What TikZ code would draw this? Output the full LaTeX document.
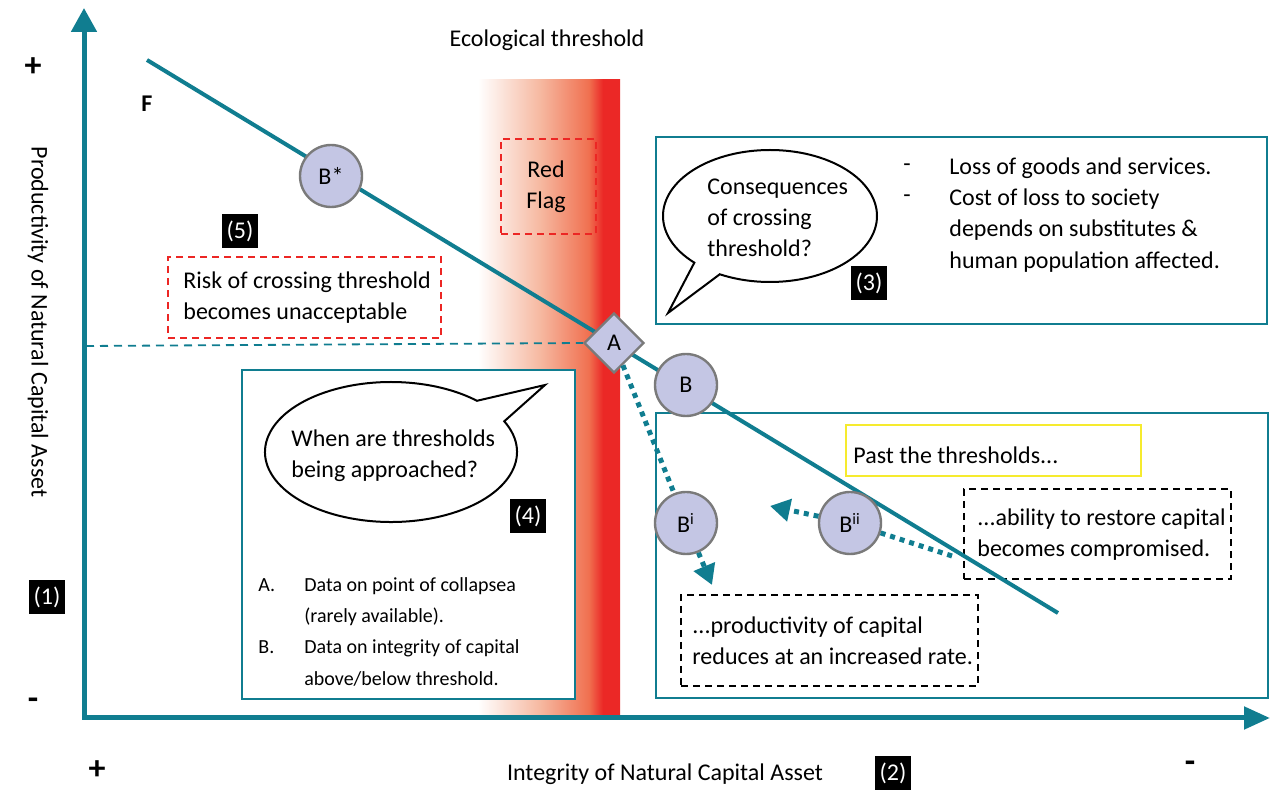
\documentclass[tikz,border=0pt]{standalone}
\usepackage{fontspec}
\setmainfont{Carlito}
\usetikzlibrary{shapes.geometric,arrows.meta}
\definecolor{teal1}{RGB}{16,125,144}
\definecolor{red1}{RGB}{236,38,36}
\definecolor{lav}{RGB}{196,198,228}
\definecolor{grayb}{RGB}{122,122,122}
\definecolor{yel}{RGB}{246,235,46}
\definecolor{bandA}{RGB}{246,184,160}
\definecolor{bandB}{RGB}{240,112,80}
\definecolor{bandR}{RGB}{235,40,38}
\pgfdeclarehorizontalshading{redband}{100bp}{color(0bp)=(white); color(25bp)=(white); color(47bp)=(bandA); color(64bp)=(bandB); color(69bp)=(bandR); color(100bp)=(bandR)}
\tikzset{
  tealbox/.style={draw=teal1, fill=white, line width=1pt, inner sep=0pt, anchor=north west},
  reddash/.style={draw=red1, line width=1.2pt, dash pattern=on 3.5pt off 2.5pt, inner sep=0pt, anchor=north west},
  blackdash/.style={draw=black, line width=1pt, dash pattern=on 3.5pt off 2.5pt, inner sep=0pt, anchor=north west},
  yelbox/.style={draw=yel, line width=1pt, inner sep=0pt, anchor=north west},
  numbox/.style={fill=black, text=white, minimum width=18pt, minimum height=17pt, inner sep=0pt, font=\fontsize{12}{14}\selectfont},
  bnode/.style={circle, draw=grayb, line width=1.2pt, fill=lav, minimum size=31pt, inner sep=0pt, font=\fontsize{12}{14}\selectfont},
  anode/.style={diamond, draw=grayb, line width=1.2pt, fill=lav, minimum size=30pt, inner sep=0pt, font=\fontsize{12}{14}\selectfont},
  txt/.style={font=\fontsize{12}{15.6}\selectfont, inner sep=0pt, align=left, anchor=west},
  smalltxt/.style={font=\fontsize{10}{15.6}\selectfont, inner sep=0pt, anchor=west},
  sign/.style={font=\fontsize{17}{18}\bfseries\selectfont, inner sep=0pt},
  axisline/.style={draw=teal1, line width=2.5pt, line join=miter},
  mainline/.style={draw=teal1, line width=2pt},
  dotline/.style={draw=teal1, line width=2.5pt, dash pattern=on 2.5pt off 2.5pt},
  dotarrow/.style={dotline, -{Triangle[width=11pt,length=10pt]}},
  bubble/.style={draw=black, line width=1pt, fill=white, line join=miter},
}
\begin{document}
\begin{tikzpicture}[x=0.5pt,y=-0.5pt]
\useasboundingbox (0,0) rectangle (1281,790);
% threshold band
\shade[shading=redband] (478,80) rectangle (620,718);
% axes
\coordinate (O) at (84,718);
\coordinate (Ytop) at (84,8);
\coordinate (Xend) at (1270,718);
\draw[axisline, {Triangle[width=12.5pt,length=12pt]}-{Triangle[width=11pt,length=13pt]}] (Ytop) -- (O) -- (Xend);
% axis labels
\node[sign] (p1) at (33,67) {+};
\node[sign] (m1) at (33,704) {-};
\node[sign] (p2) at (97,770) {+};
\node[sign] (m2) at (1190,767) {-};
\node[txt, anchor=center, rotate=-90] (ylab) at (38,322) {Productivity of Natural Capital Asset};
\node[txt, anchor=center] (xlab) at (665,774) {Integrity of Natural Capital Asset};
\node[txt, anchor=center] (eco) at (547,40) {Ecological threshold};
\node[numbox] (n1) at (47,597) {(1)};
\node[numbox] (n2) at (893,773) {(2)};
\node[font=\fontsize{12}{14}\bfseries\selectfont, inner sep=0pt] (F) at (147,104) {F};
% boxes
\node[tealbox, minimum width=305.5pt, minimum height=93.5pt] (box3) at (655,136) {};
\node[tealbox, minimum width=166.5pt, minimum height=164.5pt] (box4) at (241,369) {};
\node[tealbox, minimum width=306pt, minimum height=142.5pt] (boxP) at (655,412) {};
\node[reddash, minimum width=136.5pt, minimum height=40.5pt] (risk) at (167,256) {};
\node[reddash, minimum width=47.5pt, minimum height=47.5pt] (flag) at (500,138) {};
\node[yelbox, minimum width=147.5pt, minimum height=25.5pt] (past) at (845,424) {};
\node[blackdash, minimum width=133.5pt, minimum height=45pt] (abil) at (963,488) {};
\node[blackdash, minimum width=148.5pt, minimum height=45.5pt] (prod) at (680,594) {};
% texts in boxes
\node[txt] (risktxt) at (183,298) {Risk of crossing threshold\\becomes unacceptable};
\node[txt, align=center, anchor=center] (flagtxt) at (546,187) {Red\\Flag};
\node[txt] (pasttxt) at (853,455) {Past the thresholds...};
\node[txt] (abiltxt) at (977,535) {...ability to restore capital\\becomes compromised.};
\node[txt] (prodtxt) at (692,641) {...productivity of capital\\reduces at an increased rate.};
\node[txt] (dashes) at (903,183.5) {-\\-};
\node[txt] (loss) at (949,215) {Loss of goods and services.\\Cost of loss to society\\depends on substitutes \&\\human population affected.};
\node[smalltxt] (list) at (258,632) {\begin{tabular}{@{}p{23pt}@{}l@{}}
A. & Data on point of collapsea\\
 & (rarely available).\\
B. & Data on integrity of capital\\
 & above/below threshold.
\end{tabular}};
% speech bubbles
\draw[bubble] (770,216) ++(135:107 and 66) arc[start angle=135, end angle=478, x radius=107, y radius=66] -- (668,313) -- cycle;
\node[txt] (q3) at (707,218) {Consequences\\of crossing\\threshold?};
\node[numbox] (n3) at (869,283) {(3)};
\draw[bubble] (391,452) ++(-26:126 and 70) arc[start angle=-26, end angle=313, x radius=126, y radius=70] -- (545,385) -- cycle;
\node[txt] (q4) at (291,456) {When are thresholds\\being approached?};
\node[numbox] (n4) at (528,516) {(4)};
\node[numbox] (n5) at (240,231) {(5)};
% main line
\coordinate (L0) at (147,60);
\coordinate (L1) at (1058,613);
\draw[mainline] (L0) -- (L1);
% points
\node[bnode] (Bs) at (331,176) {B*};
\node[anode] (A) at (614,343) {A};
\node[bnode] (B) at (686,385) {B};
\node[bnode] (Bi) at (686,523) {B\textsuperscript{i}};
\node[bnode] (Bii) at (850,523) {B\textsuperscript{ii}};
% dashed level line
\coordinate (H0) at (86,346);
\draw[teal1, line width=0.9pt, dash pattern=on 4pt off 3pt] (H0) -- (A.west);
% dotted arrows
\coordinate (tipBi) at (712,585);
\coordinate (Bii0) at (952,556);
\coordinate (tipBii) at (770,506);
\draw[dotline] (A) -- (Bi);
\draw[dotarrow] (Bi) -- (tipBi);
\draw[dotline] (Bii0) -- (Bii);
\draw[dotarrow] (Bii) -- (tipBii);
\end{tikzpicture}
\end{document}
